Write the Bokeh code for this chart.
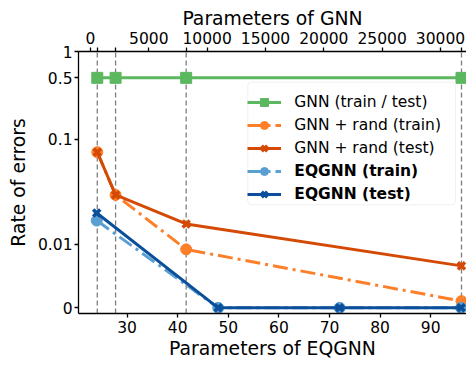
import numpy as np
from bokeh.plotting import figure
from bokeh.models import (Range1d, LinearAxis, FixedTicker, CustomJSTickFormatter,
                          Legend, LegendItem, BoxAnnotation)
from bokeh.embed import file_html
from bokeh.resources import INLINE

# ---------------- data ----------------
eqgnn_params = [24, 48, 72, 96]
gnn_params = [580, 2150, 8200, 31800]
gnn_err = [0.5, 0.5, 0.5, 0.5]
gnn_rand_train = [0.075, 0.0294, 0.0092, 0.00105]
gnn_rand_test = [0.075, 0.0294, 0.0156, 0.0066]
eqgnn_train = [0.0168, 0.0, 0.0, 0.0]
eqgnn_test = [0.0198, 0.0, 0.0, 0.0]

x_ticks = [30, 40, 50, 60, 70, 80, 90]
top_ticks = [0, 5000, 10000, 15000, 20000, 25000, 30000]
y_tick_values = [0, 0.01, 0.1, 0.5, 1]
y_tick_labels = ["0", "0.01", "0.1", "0.5", "1"]

# ---------------- y scale (linear below 0.01, log above) ----------------
LIN_SPAN = 67.0   # 0 .. 0.01
DEC1 = 111.0      # 0.01 .. 0.1
DEC2 = 92.3       # 0.1 .. 1


def yscale(v):
    v = np.asarray(v, dtype=float)
    lv = np.log10(np.maximum(v, 1e-12))
    lin = v / 0.01 * LIN_SPAN
    mid = LIN_SPAN + (lv + 2) * DEC1
    hi = LIN_SPAN + DEC1 + (lv + 1) * DEC2
    return np.where(v < 0.01, lin, np.where(v < 0.1, mid, hi)).tolist()


FONT = "DejaVu Sans"
TICK_FS = "15.5px"
LABEL_FS = "18.8px"

GREEN = "#5cb85f"
ORANGE = "#fd7f2a"
DORANGE = "#d44a04"
LBLUE = "#5a9fd2"
DBLUE = "#0b4f9b"

W, H = 466, 363
BL, BR, BT, BB = 78, 0, 51, 50
FW, FH = W - BL - BR, H - BT - BB
X0, X1 = 20.4, 97.07
Y0, Y1 = -6.0, 270.3
G0, G1 = -1029.0, 32229.0

p = figure(width=W, height=H, min_border_left=BL, min_border_right=BR,
           min_border_top=BT, min_border_bottom=BB,
           x_range=Range1d(X0, X1), y_range=Range1d(Y0, Y1),
           x_axis_location=None, y_axis_location=None,
           output_backend="svg", toolbar_location=None)
p.extra_x_ranges = {"top": Range1d(G0, G1)}
p.grid.visible = False
p.outline_line_color = None
p.background_fill_color = "white"
p.border_fill_color = "white"

bottom_axis = LinearAxis(ticker=FixedTicker(ticks=x_ticks, minor_ticks=[]),
                         axis_label="Parameters of EQGNN")
p.add_layout(bottom_axis, "below")

top_axis = LinearAxis(x_range_name="top",
                      ticker=FixedTicker(ticks=top_ticks, minor_ticks=gnn_params),
                      axis_label="Parameters of GNN")
p.add_layout(top_axis, "above")

left_axis = LinearAxis(
    ticker=FixedTicker(ticks=yscale(y_tick_values), minor_ticks=[]),
    formatter=CustomJSTickFormatter(
        args=dict(tv=yscale(y_tick_values), tl=y_tick_labels),
        code="""
        for (let i = 0; i < tv.length; i++) {
            if (Math.abs(tv[i] - tick) < 1e-6) { return tl[i]; }
        }
        return '';
        """),
    axis_label="Rate of errors")
p.add_layout(left_axis, "left")

for ax in [bottom_axis, top_axis, left_axis]:
    ax.major_label_text_font = FONT
    ax.major_label_text_font_size = TICK_FS
    ax.major_label_text_color = "black"
    ax.axis_label_text_font = FONT
    ax.axis_label_text_font_size = LABEL_FS
    ax.axis_label_text_font_style = "normal"
    ax.axis_label_text_color = "black"
    ax.axis_line_color = "black"
    ax.axis_line_width = 1.3
    ax.major_tick_line_color = "black"
    ax.major_tick_line_width = 1.3
    ax.major_tick_in = 0
    ax.major_tick_out = 4
    ax.minor_tick_line_color = "black"
    ax.minor_tick_line_width = 1.3
    ax.minor_tick_in = 0
    ax.minor_tick_out = 4
    ax.major_label_standoff = 3
    ax.axis_label_standoff = 2

top_axis.major_label_standoff = 4
top_axis.axis_label_standoff = 0
left_axis.major_label_standoff = 2
left_axis.axis_label_standoff = 6

# vertical dashed guide lines at the GNN sizes
p.segment(x0=gnn_params, x1=gnn_params, y0=[Y0] * len(gnn_params), y1=[Y1] * len(gnn_params),
          x_range_name="top", line_color="#7f7f7f", line_width=1.3, line_dash="5 3")

# GNN (train / test)
g_l = p.line(gnn_params, yscale(gnn_err), x_range_name="top", line_color=GREEN, line_width=3)
g_m = p.scatter(gnn_params, yscale(gnn_err), x_range_name="top", marker="square", size=11,
                fill_color=GREEN, line_color=GREEN)

# GNN + rand (train)
rt_l = p.line(gnn_params, yscale(gnn_rand_train), x_range_name="top", line_color=ORANGE,
              line_width=3, line_dash="15 5 3 5")
rt_m = p.scatter(gnn_params, yscale(gnn_rand_train), x_range_name="top", marker="circle",
                 size=11, fill_color=ORANGE, line_color=ORANGE)

# GNN + rand (test)
rs_l = p.line(gnn_params, yscale(gnn_rand_test), x_range_name="top", line_color=DORANGE,
              line_width=3)
rs_m = p.scatter(gnn_params, yscale(gnn_rand_test), x_range_name="top", marker="x",
                 size=10, line_color=DORANGE, line_width=3.5)

# EQGNN (train)
et_l = p.line(eqgnn_params, yscale(eqgnn_train), line_color=LBLUE, line_width=3,
              line_dash="15 5 3 5")
et_m = p.scatter(eqgnn_params, yscale(eqgnn_train), marker="circle", size=11,
                 fill_color=LBLUE, line_color=LBLUE)

# EQGNN (test)
es_l = p.line(eqgnn_params, yscale(eqgnn_test), line_color=DBLUE, line_width=3)
es_m = p.scatter(eqgnn_params, yscale(eqgnn_test), marker="x", size=10,
                 line_color=DBLUE, line_width=3.5)

# ---------------- legend ----------------
def xoff(px):
    return X0 + px * (X1 - X0) / FW


def yoff(px):
    return Y1 - px * (Y1 - Y0) / FH


LEG_LEFT, LEG_RIGHT, LEG_TOP = 169.3, 377.0, 30.6

box = BoxAnnotation(left=xoff(LEG_LEFT), right=xoff(LEG_RIGHT), top=yoff(LEG_TOP),
                    bottom=yoff(LEG_TOP + 122.7),
                    fill_color="white", fill_alpha=0.85, line_color="#cccccc",
                    line_width=1, border_radius=4)
p.add_layout(box)

common = dict(border_line_color=None, background_fill_alpha=0,
              label_text_font=FONT, label_text_font_size="15.5px",
              label_text_color="black", glyph_width=34, glyph_height=20,
              label_height=20, label_standoff=13, spacing=3, padding=5, margin=0)

leg1 = Legend(items=[
    LegendItem(label="GNN (train / test)", renderers=[g_l, g_m]),
    LegendItem(label="GNN + rand (train)", renderers=[rt_l, rt_m]),
    LegendItem(label="GNN + rand (test)", renderers=[rs_l, rs_m]),
], location=(LEG_LEFT, FH - LEG_TOP - 76), **common)

leg2 = Legend(items=[
    LegendItem(label="EQGNN (train)", renderers=[et_l, et_m]),
    LegendItem(label="EQGNN (test)", renderers=[es_l, es_m]),
], location=(LEG_LEFT, FH - LEG_TOP - 122.7), label_text_font_style="bold", **common)

p.add_layout(leg1)
p.add_layout(leg2)

open("out.html", "w").write(file_html(p, INLINE))
